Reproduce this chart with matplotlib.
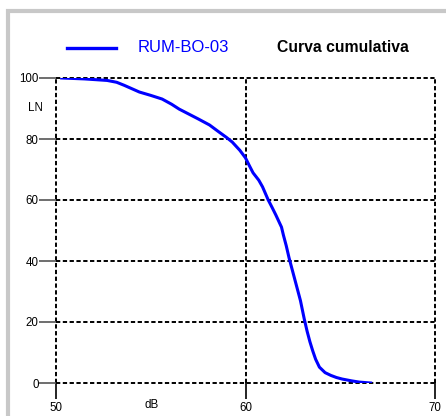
import matplotlib
matplotlib.use("Agg")
import matplotlib.pyplot as plt
from matplotlib.patches import Rectangle

plt.rcParams["font.family"] = ["Liberation Sans", "DejaVu Sans"]

# Cumulative level distribution: level (dB) vs percentage exceeded (LN)
level_db = [50.3, 51.5, 52.7, 53.2, 53.6, 54.0, 54.4, 55.0, 55.6, 56.1, 56.5,
            57.0, 57.5, 58.1, 58.6, 59.0, 59.3, 59.7, 60.0, 60.2, 60.4, 60.7,
            60.9, 61.2, 61.4, 61.6, 61.9, 62.0, 62.15, 62.3, 62.45, 62.6,
            62.75, 62.9, 63.0, 63.1, 63.25, 63.4, 63.55, 63.7, 63.9, 64.2,
            64.5, 64.8, 65.1, 65.6, 66.0, 66.6]
ln_pct = [100.0, 99.7, 99.2, 98.6, 97.6, 96.5, 95.4, 94.3, 93.1, 91.4, 89.8,
          88.2, 86.6, 84.6, 82.3, 80.5, 79.0, 76.3, 73.8, 71.3, 68.9, 66.5,
          64.3, 60.0, 57.6, 55.1, 51.1, 48.5, 45.0, 41.0, 37.5, 34.0,
          30.5, 27.0, 24.0, 21.0, 17.0, 13.5, 10.5, 7.8, 5.2, 3.4,
          2.5, 1.8, 1.3, 0.7, 0.3, 0.0]

x_ticks = [50, 60, 70]
y_ticks = [0, 20, 40, 60, 80, 100]
series_name = "RUM-BO-03"
title = "Curva cumulativa"

W, H = 446, 416
fig = plt.figure(figsize=(W / 100, H / 100), dpi=100)
fig.patch.set_facecolor("white")

# Light grey panel frame
fig.patches.append(Rectangle((8 / W, -0.05), 1.1, (H - 11) / H + 0.05,
                             transform=fig.transFigure, fill=False,
                             edgecolor="#c8c8c8", linewidth=3))

ax = fig.add_axes([56 / W, (H - 383) / H, (435 - 56) / W, (383 - 78) / H])
ax.set_xlim(50, 70)
ax.set_ylim(0, 100)
ax.plot(level_db, ln_pct, color="#0000ff", linewidth=2.2,
        solid_joinstyle="round", zorder=3)

for s in ax.spines.values():
    s.set_visible(False)
dash = (0, (2.2, 1.3))
for x in x_ticks:
    ax.axvline(x, color="black", linestyle=dash, linewidth=1.4, zorder=1,
               clip_on=False)
for y in y_ticks:
    ax.axhline(y, color="black", linestyle=dash, linewidth=1.4, zorder=1,
               clip_on=False)

ax.set_xticks(x_ticks)
ax.set_yticks(y_ticks)
ax.set_xticklabels([str(v) for v in x_ticks])
ax.set_yticklabels([str(v) for v in y_ticks])
ax.tick_params(axis="y", length=12, width=1.2, color="#555555", pad=0.5,
               labelsize=8.3)
ax.tick_params(axis="x", length=11.5, width=1.2, color="black", pad=2,
               labelsize=8.3)

fig.text(35 / W, 1 - 108 / H, "LN", fontsize=8.3, ha="center", va="center")
fig.text(152 / W, 1 - 405 / H, "dB", fontsize=8.3, ha="center", va="center")

# Legend row
fig.lines.append(plt.Line2D([67 / W, 116 / W], [1 - 48 / H, 1 - 48 / H],
                            transform=fig.transFigure, color="#0000ff",
                            linewidth=2.4))
fig.text(138 / W, 1 - 48 / H, series_name, color="#0000ff", fontsize=12,
         ha="left", va="center")
fig.text(343 / W, 1 - 48 / H, title, color="black", fontsize=11.3,
         fontweight="bold", ha="center", va="center")

fig.savefig("out.png", dpi=100)
